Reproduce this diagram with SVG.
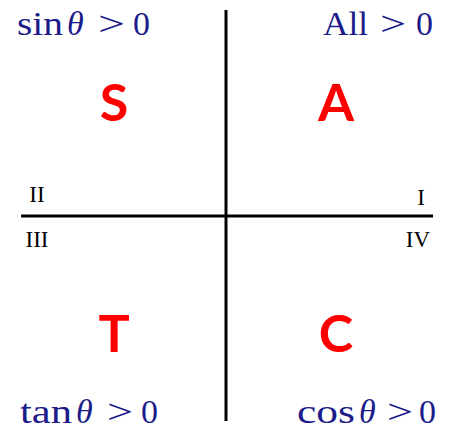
<svg xmlns="http://www.w3.org/2000/svg" width="456" height="446" viewBox="0 0 456 446">
<style>
.math{font-family:"Liberation Serif","DejaVu Serif",serif;font-size:34px;fill:#1b1b8a}
.th{font-style:italic}
.big{font-family:Lato,"Open Sans",sans-serif;font-weight:bold;font-size:52px;fill:#ff0000;text-anchor:middle}
.rom{font-family:"Liberation Serif","DejaVu Serif",serif;font-size:23px;fill:#000;text-anchor:middle}
.axis{stroke:#000;stroke-width:3;fill:none}
</style>
<g id="connectors">
<line class="axis" x1="226" y1="10" x2="226" y2="421"/>
<line class="axis" x1="21" y1="216" x2="433" y2="216"/>
</g>
<g id="q2"><text class="math" y="35"><tspan x="17" textLength="46" lengthAdjust="spacingAndGlyphs">sin</tspan><tspan class="th" x="67">θ</tspan><tspan x="98" textLength="27" lengthAdjust="spacingAndGlyphs">&gt;</tspan><tspan x="133">0</tspan></text><text class="big" x="114" y="121">S</text><text class="rom" x="37" y="202">II</text></g>
<g id="q1"><text class="math" y="35"><tspan x="323" textLength="45" lengthAdjust="spacingAndGlyphs">All</tspan><tspan x="380" textLength="26" lengthAdjust="spacingAndGlyphs">&gt;</tspan><tspan x="416">0</tspan></text><text class="big" x="336" y="121">A</text><text class="rom" x="421" y="205">I</text></g>
<g id="q3"><text class="math" y="423"><tspan x="20" textLength="52" lengthAdjust="spacingAndGlyphs">tan</tspan><tspan class="th" x="76">θ</tspan><tspan x="107" textLength="26" lengthAdjust="spacingAndGlyphs">&gt;</tspan><tspan x="141">0</tspan></text><text class="big" x="114" y="352">T</text><text class="rom" x="37" y="247">III</text></g>
<g id="q4"><text class="math" y="423"><tspan x="297" textLength="58" lengthAdjust="spacingAndGlyphs">cos</tspan><tspan class="th" x="359">θ</tspan><tspan x="387" textLength="26" lengthAdjust="spacingAndGlyphs">&gt;</tspan><tspan x="419">0</tspan></text><text class="big" x="336" y="352">C</text><text class="rom" x="418" y="247">IV</text></g>
</svg>
